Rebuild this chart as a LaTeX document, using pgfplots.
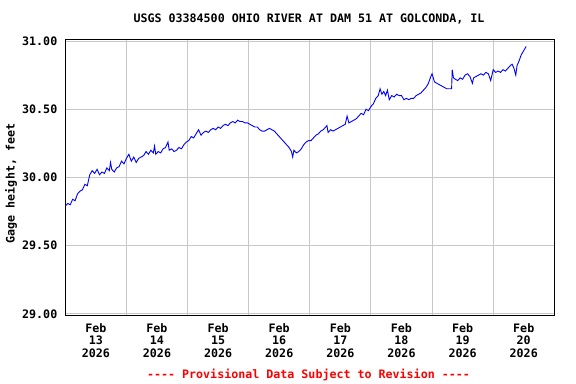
\documentclass[border=0pt]{standalone}
\usepackage{pgfplots}
\pgfplotsset{compat=1.18}
\usepackage{pgfplotstable}
\usepackage{fontspec}
\setmainfont{DejaVu Sans Mono}[Ligatures=TeXOff]
\definecolor{gridgray}{RGB}{200,200,200}
\definecolor{usgsred}{RGB}{255,0,0}
\pgfplotstableread{
d v
0.00 29.79
0.04 29.81
0.08 29.80
0.12 29.84
0.16 29.83
0.20 29.88
0.24 29.90
0.28 29.91
0.32 29.95
0.36 29.94
0.40 30.02
0.44 30.05
0.48 30.03
0.52 30.06
0.56 30.02
0.60 30.04
0.64 30.03
0.68 30.07
0.72 30.05
0.74 30.11
0.76 30.06
0.80 30.04
0.84 30.07
0.88 30.08
0.92 30.12
0.96 30.10
1.00 30.14
1.04 30.17
1.08 30.12
1.12 30.15
1.16 30.11
1.20 30.14
1.24 30.15
1.28 30.16
1.32 30.19
1.36 30.17
1.40 30.20
1.44 30.18
1.46 30.23
1.48 30.17
1.52 30.19
1.56 30.18
1.60 30.21
1.64 30.22
1.68 30.26
1.70 30.20
1.74 30.21
1.78 30.19
1.82 30.20
1.86 30.22
1.90 30.21
1.94 30.24
1.98 30.26
2.02 30.27
2.06 30.30
2.10 30.29
2.14 30.32
2.18 30.35
2.22 30.31
2.26 30.33
2.30 30.34
2.34 30.33
2.38 30.35
2.42 30.36
2.46 30.35
2.50 30.37
2.54 30.36
2.58 30.38
2.62 30.39
2.66 30.38
2.70 30.40
2.74 30.41
2.78 30.40
2.82 30.42
2.86 30.41
2.90 30.41
2.94 30.40
2.98 30.40
3.02 30.39
3.06 30.38
3.10 30.37
3.14 30.37
3.18 30.35
3.22 30.34
3.26 30.34
3.30 30.35
3.34 30.36
3.38 30.35
3.42 30.34
3.46 30.32
3.50 30.30
3.54 30.28
3.58 30.26
3.62 30.24
3.66 30.22
3.70 30.19
3.72 30.15
3.74 30.20
3.78 30.18
3.82 30.19
3.86 30.21
3.90 30.24
3.94 30.26
3.98 30.27
4.02 30.27
4.06 30.29
4.10 30.31
4.14 30.32
4.18 30.34
4.22 30.35
4.26 30.37
4.28 30.38
4.30 30.33
4.34 30.35
4.38 30.34
4.42 30.35
4.46 30.36
4.50 30.37
4.54 30.38
4.58 30.39
4.61 30.45
4.64 30.40
4.68 30.41
4.72 30.42
4.76 30.43
4.80 30.45
4.84 30.47
4.88 30.46
4.92 30.50
4.96 30.49
5.00 30.52
5.04 30.54
5.08 30.58
5.12 30.60
5.15 30.65
5.18 30.61
5.21 30.63
5.24 30.60
5.27 30.64
5.30 30.57
5.34 30.60
5.38 30.59
5.42 30.61
5.46 30.60
5.50 30.60
5.54 30.57
5.58 30.58
5.62 30.57
5.66 30.58
5.70 30.58
5.74 30.60
5.78 30.61
5.82 30.62
5.86 30.64
5.90 30.66
5.94 30.69
5.98 30.74
6.00 30.76
6.02 30.73
6.04 30.70
6.08 30.69
6.12 30.68
6.16 30.67
6.20 30.66
6.24 30.65
6.28 30.65
6.32 30.65
6.33 30.79
6.35 30.73
6.38 30.72
6.42 30.71
6.46 30.73
6.50 30.72
6.54 30.75
6.58 30.76
6.62 30.74
6.66 30.69
6.68 30.73
6.72 30.74
6.76 30.75
6.80 30.76
6.84 30.75
6.88 30.77
6.92 30.76
6.96 30.71
7.00 30.79
7.04 30.77
7.08 30.78
7.12 30.77
7.16 30.79
7.20 30.78
7.24 30.80
7.28 30.82
7.31 30.83
7.34 30.80
7.37 30.75
7.39 30.82
7.42 30.85
7.46 30.90
7.50 30.93
7.54 30.96
}\gage
\begin{document}
\begin{tikzpicture}[font=\fontsize{11.7}{12.7}\selectfont\bfseries]
\path[use as bounding box] (-65.3bp,-68.3bp) rectangle (510.7bp,315.7bp);
\begin{axis}[
  at={(0,0)}, anchor=south west,
  scale only axis, width=489bp, height=276.4bp,
  xmin=0, xmax=8, ymin=28.9875, ymax=31.0125,
  axis line style={line width=1.3bp, black},
  xtick={0.5,1.5,2.5,3.5,4.5,5.5,6.5,7.5},
  xticklabels={Feb\\13\\2026,Feb\\14\\2026,Feb\\15\\2026,Feb\\16\\2026,Feb\\17\\2026,Feb\\18\\2026,Feb\\19\\2026,Feb\\20\\2026},
  xticklabel style={align=center, font=\fontsize{11.7}{12.7}\selectfont\bfseries, yshift=-4bp},
  minor xtick={1,2,3,4,5,6,7},
  xminorgrids=true,
  ytick={29,29.5,30,30.5,31},
  ymajorgrids=true,
  grid style={gridgray, line width=1bp},
  minor grid style={gridgray, line width=1bp},
  major tick length=0pt, minor tick length=0pt,
  yticklabel style={font=\fontsize{11.7}{12.7}\selectfont\bfseries, xshift=-4.5bp,
    /pgf/number format/.cd, fixed, fixed zerofill, precision=2, assume math mode=true},
  clip=true,
]
\addplot[color={rgb,255:red,0;green,0;blue,255}, line width=0.9bp, line join=miter] table[x=d,y=v] {\gage};
\end{axis}
\node at (243.7bp,296.7bp) {USGS 03384500 OHIO RIVER AT DAM 51 AT GOLCONDA, IL};
\node[rotate=90] at (-54.3bp,132.2bp) {Gage height, feet};
\node[text=usgsred] at (243.2bp,-59.3bp) {---- Provisional Data Subject to Revision ----};
\end{tikzpicture}
\end{document}
